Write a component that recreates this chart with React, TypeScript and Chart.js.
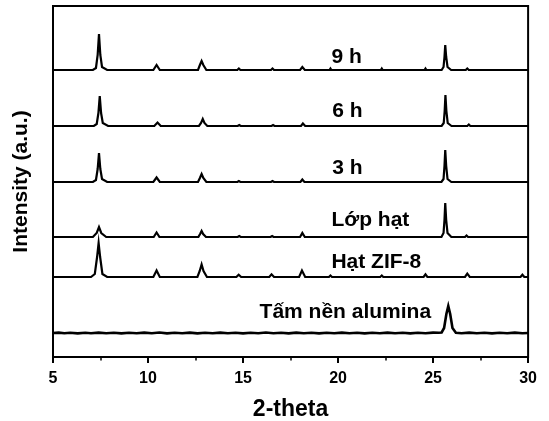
import React, { useEffect, useRef } from "react";
import { Chart, registerables } from "chart.js";

Chart.register(...registerables);

// x-axis
const X_MIN = 5;
const X_MAX = 30;
const X_LABEL_STEP = 5;
const X_TICKS = [5, 7.5, 10, 12.5, 15, 17.5, 20, 22.5, 25, 27.5, 30];

// series names (top to bottom)
const SERIES_NAMES = ["9 h", "6 h", "3 h", "Lớp hạt", "Hạt ZIF-8", "Tấm nền alumina"];
// vertical stacking offsets (a.u.)
const OFFSETS = [287, 231, 175, 120, 80, 24];

// [2-theta, intensity above own baseline]
const S_9H: number[][] = [
  [5, 0], [7.1, 0], [7.26, 2], [7.35, 15], [7.42, 36], [7.49, 15], [7.58, 3], [7.85, 0],
  [10.28, 0], [10.45, 5], [10.62, 0],
  [12.63, 0], [12.73, 5], [12.82, 9], [12.91, 5], [13.07, 0],
  [14.7, 0], [14.78, 1.5], [14.86, 0],
  [16.47, 0], [16.55, 1.5], [16.63, 0],
  [18.0, 0], [18.12, 3], [18.25, 0],
  [19.55, 0], [19.6, 1.5], [19.65, 0],
  [22.25, 0], [22.3, 1.5], [22.35, 0],
  [24.55, 0], [24.6, 1.5], [24.65, 0],
  [25.45, 0], [25.55, 3], [25.6, 13], [25.64, 25], [25.69, 13], [25.76, 3], [25.95, 0],
  [26.72, 0], [26.8, 1.5], [26.88, 0],
  [30, 0],
];

const S_6H: number[][] = [
  [5, 0], [7.15, 0], [7.3, 2], [7.39, 13], [7.46, 30], [7.53, 13], [7.62, 3], [7.9, 0],
  [10.33, 0], [10.5, 3.5], [10.67, 0],
  [12.68, 0], [12.79, 3], [12.88, 7], [12.97, 3], [13.12, 0],
  [14.72, 0], [14.8, 1], [14.88, 0],
  [16.5, 0], [16.58, 1], [16.66, 0],
  [18.05, 0], [18.15, 2.5], [18.27, 0],
  [25.45, 0], [25.56, 3], [25.61, 15], [25.65, 31], [25.7, 15], [25.77, 3], [25.97, 0],
  [26.8, 0], [26.88, 1.5], [26.96, 0],
  [30, 0],
];

const S_3H: number[][] = [
  [5, 0], [7.1, 0], [7.26, 2], [7.35, 13], [7.42, 29], [7.49, 13], [7.58, 3], [7.85, 0],
  [10.28, 0], [10.45, 4.5], [10.62, 0],
  [12.63, 0], [12.73, 4], [12.82, 8], [12.91, 4], [13.07, 0],
  [14.7, 0], [14.78, 1], [14.86, 0],
  [16.47, 0], [16.55, 1], [16.63, 0],
  [18.02, 0], [18.12, 2.5], [18.23, 0],
  [25.44, 0], [25.55, 3], [25.6, 16], [25.64, 32], [25.69, 16], [25.76, 3], [25.96, 0],
  [30, 0],
];

const S_LOPHAT: number[][] = [
  [5, 0], [7.1, 0], [7.3, 4], [7.42, 10], [7.54, 4], [7.8, 0],
  [10.3, 0], [10.45, 4.5], [10.6, 0],
  [12.65, 0], [12.74, 3], [12.82, 6], [12.9, 3], [13.05, 0],
  [14.72, 0], [14.8, 1], [14.88, 0],
  [16.45, 0], [16.53, 1], [16.61, 0],
  [18.0, 0], [18.12, 4], [18.25, 0],
  [25.44, 0], [25.55, 4], [25.6, 17], [25.64, 34], [25.69, 17], [25.76, 4], [25.96, 0],
  [26.68, 0], [26.76, 1.5], [26.84, 0],
  [30, 0],
];

const S_ZIF8: number[][] = [
  [5, 0], [7.0, 0], [7.2, 3], [7.32, 20], [7.4, 34], [7.48, 20], [7.6, 3], [7.85, 0],
  [10.28, 0], [10.45, 6.5], [10.62, 0],
  [12.6, 0], [12.72, 6], [12.82, 12.5], [12.92, 6], [13.1, 0],
  [14.65, 0], [14.77, 2.3], [14.9, 0],
  [16.38, 0], [16.5, 2.7], [16.63, 0],
  [17.95, 0], [18.1, 6.5], [18.27, 0],
  [19.52, 0], [19.6, 1.5], [19.68, 0],
  [22.22, 0], [22.3, 1.5], [22.38, 0],
  [24.5, 0], [24.6, 2.7], [24.7, 0],
  [26.68, 0], [26.8, 3.3], [26.93, 0],
  [29.6, 0], [29.7, 2.3], [29.8, 0],
  [30, 0],
];

const S_ALUMINA: number[][] = [
  [5, 0], [5.3, 0.4], [5.6, -0.3], [5.9, 0.3], [6.3, -0.4], [6.7, 0.3], [7.0, -0.2],
  [7.4, 0.4], [7.8, -0.3], [8.2, 0.3], [8.6, -0.4], [9.0, 0.2], [9.4, -0.3], [9.8, 0.4],
  [10.2, -0.3], [10.6, 0.5], [11.0, -0.4], [11.4, 0.3], [11.8, -0.3], [12.2, 0.4],
  [12.6, -0.4], [13.0, 0.3], [13.4, -0.3], [13.8, 0.4], [14.2, -0.3], [14.6, 0.3],
  [15.0, -0.4], [15.4, 0.3], [15.8, -0.3], [16.2, 0.5], [16.6, -0.3], [17.0, 0.3],
  [17.4, -0.4], [17.8, 0.4], [18.2, -0.3], [18.6, 0.3], [19.0, -0.4], [19.4, 0.3],
  [19.8, -0.3], [20.2, 0.4], [20.6, -0.3], [21.0, 0.3], [21.4, -0.4], [21.8, 0.3],
  [22.2, -0.3], [22.6, 0.4], [23.0, -0.3], [23.4, 0.3], [23.8, -0.4], [24.2, 0.3],
  [24.6, -0.3], [25.0, 0.4], [25.3, 0.3],
  [25.45, 0.5], [25.58, 5], [25.7, 19], [25.8, 27], [25.9, 19], [26.02, 5], [26.2, 0.3],
  [26.5, -0.3], [26.9, 0.4], [27.3, -0.3], [27.7, 0.3], [28.1, -0.4], [28.5, 0.3],
  [28.9, -0.3], [29.3, 0.4], [29.7, -0.3], [30, 0],
];

const SERIES = [S_9H, S_6H, S_3H, S_LOPHAT, S_ZIF8, S_ALUMINA];

// label anchors: [2-theta of left edge, text baseline in y units]
const LABEL_X = [19.65, 19.7, 19.7, 19.65, 19.65, 15.87];
const LABEL_Y = [294, 240, 183, 131, 89, 39];

const FONT_FAMILY = "'Liberation Sans', Arial, sans-serif";

const framePlugin = {
  id: "frameAndTicks",
  afterDraw(chart: any) {
    const { ctx, chartArea, scales } = chart;
    const xs = scales.x;
    const ys = scales.y;
    ctx.save();
    ctx.strokeStyle = "#000";
    ctx.lineWidth = 2;
    ctx.strokeRect(chartArea.left, chartArea.top, chartArea.right - chartArea.left, chartArea.bottom - chartArea.top);
    X_TICKS.forEach((v) => {
      const px = Math.round(xs.getPixelForValue(v));
      const major = v % X_LABEL_STEP === 0;
      ctx.lineWidth = major ? 2 : 1.5;
      ctx.beginPath();
      ctx.moveTo(px, chartArea.bottom);
      ctx.lineTo(px, chartArea.bottom + (major ? 6 : 3.5));
      ctx.stroke();
    });
    ctx.fillStyle = "#000";
    ctx.font = `bold 21px ${FONT_FAMILY}`;
    ctx.textAlign = "left";
    ctx.textBaseline = "alphabetic";
    SERIES_NAMES.forEach((name, i) => {
      ctx.fillText(name, xs.getPixelForValue(LABEL_X[i]), ys.getPixelForValue(LABEL_Y[i]));
    });
    ctx.restore();
  },
};

export default function App() {
  const ref = useRef<HTMLCanvasElement | null>(null);
  useEffect(() => {
    if (!ref.current) return;
    const chart = new Chart(ref.current, {
      type: "line",
      data: {
        datasets: SERIES.map((s, i) => ({
          label: SERIES_NAMES[i],
          data: s.map(([x, y]) => ({ x, y: y + OFFSETS[i] })),
          borderColor: "#000",
          borderWidth: i === 5 ? 2.6 : 2.2,
          pointRadius: 0,
          tension: 0,
          fill: false,
        })),
      },
      options: {
        responsive: false,
        animation: false,
        layout: { padding: { top: 6, right: 20, left: 0, bottom: 0 } },
        plugins: { legend: { display: false }, tooltip: { enabled: false } },
        scales: {
          x: {
            type: "linear",
            min: X_MIN,
            max: X_MAX,
            grid: { display: false, drawTicks: false },
            border: { display: true, color: "#000", width: 2 },
            ticks: {
              stepSize: X_LABEL_STEP,
              color: "#000",
              padding: 12,
              font: { family: FONT_FAMILY, size: 16, weight: "bold" },
            },
            title: {
              display: true,
              text: "2-theta",
              color: "#000",
              font: { family: FONT_FAMILY, size: 23, weight: "bold", lineHeight: 1 },
              padding: { top: 0, bottom: 0 },
            },
            afterFit: (scale: any) => {
              scale.height = 64;
            },
          },
          y: {
            type: "linear",
            min: 0,
            max: 351,
            grid: { display: false, drawTicks: false },
            border: { display: true, color: "#000", width: 2 },
            ticks: { display: false },
            title: {
              display: true,
              text: "Intensity (a.u.)",
              color: "#000",
              font: { family: FONT_FAMILY, size: 21, weight: "bold", lineHeight: 1.2 },
              padding: { top: 9, bottom: 0 },
            },
            afterFit: (scale: any) => {
              scale.width = 53;
            },
          },
        },
      },
      plugins: [framePlugin],
    });
    return () => chart.destroy();
  }, []);
  return (
    <div style={{ position: "absolute", left: 0, top: 0, width: 549, height: 421, background: "#fff" }}>
      <canvas ref={ref} width={549} height={421} />
    </div>
  );
}
